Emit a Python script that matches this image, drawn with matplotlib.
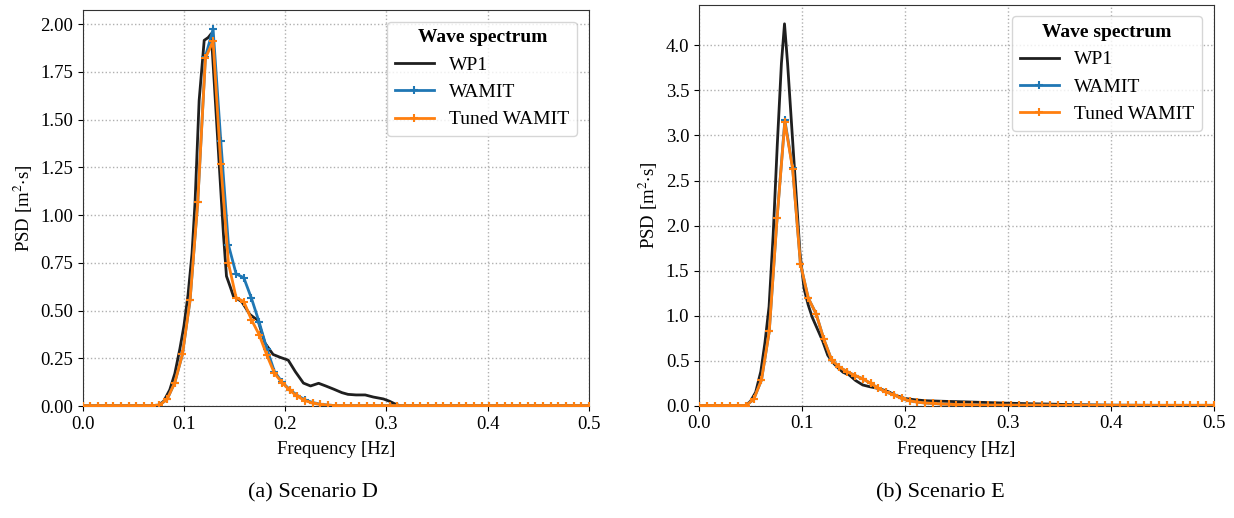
import numpy as np
import matplotlib
matplotlib.use("Agg")
import matplotlib.pyplot as plt

plt.rcParams['font.family'] = ['Liberation Serif', 'DejaVu Serif']
plt.rcParams['mathtext.fontset'] = 'stix'
plt.rcParams['font.size'] = 13.5

# common frequency grid of the WAMIT spectra (67 bins from 0 to 0.5 Hz)
freq = np.linspace(0.0, 0.5, 67)

# ---- Scenario D ----
wp1_d_f = [0.0, 0.074, 0.080, 0.086, 0.091, 0.096, 0.100, 0.104, 0.108, 0.111, 0.115,
           0.120, 0.124, 0.127, 0.131, 0.135, 0.139, 0.142, 0.146, 0.149, 0.157, 0.165,
           0.170, 0.173, 0.180, 0.188, 0.195, 0.203, 0.210, 0.218, 0.225, 0.233, 0.240,
           0.248, 0.256, 0.262, 0.270, 0.279, 0.287, 0.297, 0.303, 0.308, 0.314, 0.5]
wp1_d = [0.0, 0.0, 0.025, 0.085, 0.17, 0.30, 0.42, 0.58, 0.80, 1.07, 1.60,
         1.915, 1.93, 1.95, 1.60, 1.25, 0.90, 0.68, 0.62, 0.573, 0.547, 0.48,
         0.46, 0.45, 0.33, 0.27, 0.255, 0.24, 0.18, 0.12, 0.105, 0.119, 0.105,
         0.088, 0.07, 0.061, 0.058, 0.058, 0.047, 0.037, 0.025, 0.012, 0.0, 0.0]
wamit_d = [0.002] * 10 + [0.005, 0.035, 0.122, 0.27, 0.556, 1.069, 1.83, 1.974, 1.39,
                          0.844, 0.692, 0.672, 0.564, 0.44, 0.30, 0.18, 0.125, 0.085,
                          0.055, 0.032, 0.018, 0.009, 0.005] + [0.002] * 34
tuned_d = [0.002] * 10 + [0.005, 0.035, 0.122, 0.27, 0.556, 1.069, 1.822, 1.91, 1.268,
                          0.748, 0.568, 0.547, 0.452, 0.374, 0.267, 0.171, 0.122, 0.082,
                          0.05, 0.028, 0.015, 0.008, 0.004] + [0.002] * 34

# ---- Scenario E ----
wp1_e_f = [0.0, 0.045, 0.050, 0.055, 0.060, 0.064, 0.068, 0.072, 0.076, 0.080, 0.083,
           0.086, 0.090, 0.094, 0.098, 0.102, 0.106, 0.110, 0.115, 0.120, 0.125, 0.130,
           0.135, 0.140, 0.146, 0.152, 0.159, 0.166, 0.175, 0.184, 0.190, 0.200, 0.210,
           0.220, 0.240, 0.260, 0.280, 0.300, 0.320, 0.340, 0.360, 0.400, 0.450, 0.500]
wp1_e = [0.0, 0.0, 0.05, 0.15, 0.38, 0.70, 1.10, 1.90, 2.90, 3.80, 4.24,
         3.80, 3.10, 2.40, 1.70, 1.30, 1.12, 0.98, 0.85, 0.72, 0.56, 0.48,
         0.42, 0.37, 0.34, 0.28, 0.23, 0.21, 0.19, 0.155, 0.12, 0.08, 0.065,
         0.055, 0.048, 0.042, 0.035, 0.028, 0.022, 0.018, 0.012, 0.006, 0.003, 0.001]
wamit_e = [0.002] * 7 + [0.07, 0.285, 0.825, 2.08, 3.17, 2.64, 1.575, 1.195, 1.022, 0.738,
                         0.507, 0.428, 0.377, 0.335, 0.298, 0.248, 0.193, 0.152, 0.12,
                         0.08, 0.055, 0.04, 0.03, 0.025, 0.02, 0.016, 0.013, 0.011,
                         0.01] + [0.006] * 10 + [0.004] * 21
tuned_e = [0.002] * 7 + [0.07, 0.285, 0.825, 2.08, 3.15, 2.63, 1.575, 1.195, 1.022, 0.738,
                         0.507, 0.428, 0.377, 0.335, 0.298, 0.248, 0.193, 0.152, 0.12,
                         0.08, 0.055, 0.04, 0.03, 0.025, 0.02, 0.016, 0.013, 0.011,
                         0.01] + [0.006] * 10 + [0.004] * 21

fig = plt.figure(figsize=(12.34, 5.18), dpi=100)
ax1 = fig.add_axes([0.0670, 0.2162, 0.4103, 0.7645])
ax2 = fig.add_axes([0.5665, 0.2168, 0.4171, 0.7741])

panels = [
    (ax1, wp1_d_f, wp1_d, wamit_d, tuned_d, [0, 0.25, 0.5, 0.75, 1.0, 1.25, 1.5, 1.75, 2.0], '%.2f'),
    (ax2, wp1_e_f, wp1_e, wamit_e, tuned_e, [0, 0.5, 1.0, 1.5, 2.0, 2.5, 3.0, 3.5, 4.0], '%.1f'),
]

for ax, wf, wv, wam, tun, yt, fmt in panels:
    ax.plot(wf, wv, color='#1f1f1f', lw=2.0, label='WP1', zorder=3)
    ax.plot(freq, wam, color='#1f77b4', lw=2.0, marker='+', ms=6, mew=1.5,
            label='WAMIT', zorder=4)
    ax.plot(freq, tun, color='#ff7f0e', lw=2.0, marker='+', ms=6, mew=1.5,
            label='Tuned WAMIT', zorder=5)
    ax.set_xlim(0, 0.5)
    ax.set_yticks(yt)
    ax.yaxis.set_major_formatter(matplotlib.ticker.FormatStrFormatter(fmt))
    ax.set_xticks([0, 0.1, 0.2, 0.3, 0.4, 0.5])
    ax.xaxis.set_major_formatter(matplotlib.ticker.FormatStrFormatter('%.1f'))
    ax.grid(True, ls=':', color='#b0b0b0', lw=1.0)
    ax.set_xlabel('Frequency [Hz]', labelpad=6)
    ax.set_ylabel('PSD [m$^{2}$$\\cdot$s]')
    for s in ax.spines.values():
        s.set_color('#333333')
    leg = ax.legend(title='Wave spectrum', loc='upper right', fontsize=14,
                    title_fontproperties={'weight': 'bold', 'size': 14},
                    borderaxespad=0.6)

ax1.set_ylim(0, 2.074)
ax2.set_ylim(0, 4.452)

fig.text(0.254, 0.048, '(a) Scenario D', ha='center', va='center', fontsize=16)
fig.text(0.762, 0.048, '(b) Scenario E', ha='center', va='center', fontsize=16)

fig.savefig('out.png', dpi=100)
